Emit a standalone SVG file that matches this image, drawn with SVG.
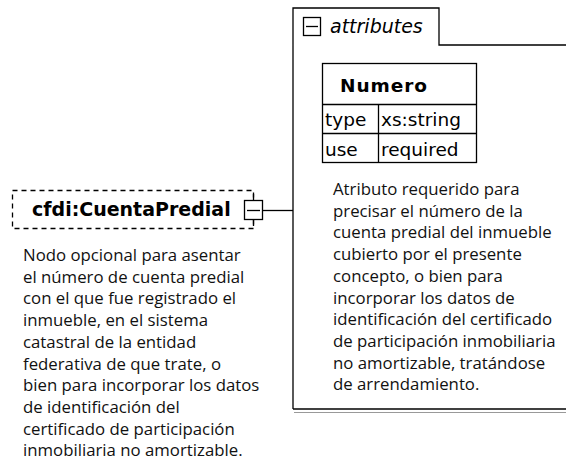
<svg xmlns="http://www.w3.org/2000/svg" width="566" height="464" viewBox="0 0 566 464">
<style>
.desc{font-family:"Open Sans","Noto Sans",sans-serif;font-size:16.8px;fill:#111}
.lbl{font-family:"DejaVu Sans",Verdana,sans-serif;font-size:19px;font-weight:bold;fill:#000}
.cell{font-family:"DejaVu Sans",Verdana,sans-serif;font-size:18.5px;fill:#000}
.ln{fill:none;stroke:#000;stroke-width:1.3}
</style>
<rect width="566" height="464" fill="#fff"/>
<g id="attributes">
<path class="ln" d="M293,409 V8 H439 V45 H566" stroke-width="1.6"/>
<path d="M293,409 H566" stroke="#000" stroke-width="1.6"/>
<path d="M294,412.5 H566" stroke="#999" stroke-width="1"/>
<rect class="ln" x="303.5" y="17.5" width="17" height="18"/>
<line class="ln" x1="306" y1="26.5" x2="318" y2="26.5"/>
<text x="330" y="33" style="font-family:'DejaVu Sans',Verdana,sans-serif;font-size:19px;font-style:italic">attributes</text>
</g>
<g id="numero">
<rect class="ln" x="322.5" y="63.5" width="154" height="99"/>
<line class="ln" x1="322.5" y1="104.5" x2="476.5" y2="104.5"/>
<line class="ln" x1="322.5" y1="133.5" x2="476.5" y2="133.5"/>
<line class="ln" x1="378.5" y1="104.5" x2="378.5" y2="162.5"/>
<text class="cell" x="340" y="92" font-weight="bold" textLength="87">Numero</text>
<text class="cell" x="325" y="126">type</text>
<text class="cell" x="381" y="126">xs:string</text>
<text class="cell" x="325" y="156">use</text>
<text class="cell" x="381" y="156">required</text>
</g>
<g id="attr-desc" class="desc">
<text x="333" y="195">Atributo requerido para</text>
<text x="333" y="216.7">precisar el número de la</text>
<text x="333" y="238.4">cuenta predial del inmueble</text>
<text x="333" y="260.1">cubierto por el presente</text>
<text x="333" y="281.8">concepto, o bien para</text>
<text x="333" y="303.5">incorporar los datos de</text>
<text x="333" y="325.2">identificación del certificado</text>
<text x="333" y="346.9">de participación inmobiliaria</text>
<text x="333" y="368.6">no amortizable, tratándose</text>
<text x="333" y="390.3">de arrendamiento.</text>
</g>
<g id="cuentapredial">
<rect x="12.5" y="190.5" width="241" height="38" fill="none" stroke="#000" stroke-width="1.3" stroke-dasharray="5,4"/>
<text class="lbl" x="32" y="216">cfdi:CuentaPredial</text>
<line class="ln" x1="253.5" y1="194" x2="253.5" y2="226"/>
<rect x="244.5" y="200.5" width="18" height="19" fill="#fff" stroke="#000" stroke-width="1.3"/>
<line class="ln" x1="247" y1="210.5" x2="260" y2="210.5"/>
</g>
<g id="node-desc" class="desc">
<text x="23" y="261">Nodo opcional para asentar</text>
<text x="23" y="282.7">el número de cuenta predial</text>
<text x="23" y="304.4">con el que fue registrado el</text>
<text x="23" y="326.1">inmueble, en el sistema</text>
<text x="23" y="347.8">catastral de la entidad</text>
<text x="23" y="369.5">federativa de que trate, o</text>
<text x="23" y="391.2">bien para incorporar los datos</text>
<text x="23" y="412.9">de identificación del</text>
<text x="23" y="434.6">certificado de participación</text>
<text x="23" y="456.3">inmobiliaria no amortizable.</text>
</g>
<g id="connectors">
<line class="ln" x1="262.5" y1="210.5" x2="293" y2="210.5"/>
</g>
</svg>
